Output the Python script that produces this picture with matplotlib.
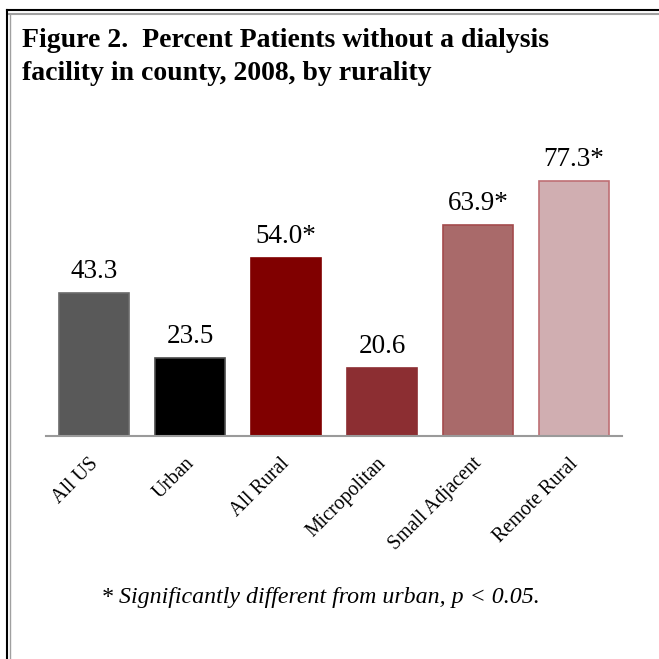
import matplotlib
matplotlib.use("Agg")
import matplotlib.pyplot as plt
import matplotlib.transforms as mtransforms
from matplotlib.lines import Line2D

categories = ["All US", "Urban", "All Rural", "Micropolitan", "Small Adjacent", "Remote Rural"]
values = [43.3, 23.5, 54.0, 20.6, 63.9, 77.3]
value_labels = ["43.3", "23.5", "54.0*", "20.6", "63.9*", "77.3*"]
face_colors = ["#595959", "#000000", "#800000", "#8C2E32", "#A96A6A", "#D0AEB1"]
edge_colors = ["#6a6a6a", "#4a4a4a", "#800000", "#8C2E32", "#A34A4C", "#BE6F74"]
title_lines = ["Figure 2.  Percent Patients without a dialysis",
               "facility in county, 2008, by rurality"]
footnote = "* Significantly different from urban, p < 0.05."

serif = ["Liberation Serif", "DejaVu Serif"]

fig = plt.figure(figsize=(6.59, 6.59), dpi=100)
W, H = 659, 659

# axes in pixel coordinates: x from 46 to 622, baseline y=436
left, right = 46, 622
base = 436
ymax = 90
ppu = 3.30
top = base - ymax * ppu
ax = fig.add_axes([left / W, 1 - base / H, (right - left) / W, (base - top) / H])
x = list(range(len(categories)))
ax.bar(x, values, width=0.72, color=face_colors, edgecolor=edge_colors, linewidth=1.2)
ax.set_xlim(-0.5, len(categories) - 0.5)
ax.set_ylim(0, ymax)
for s in ["top", "right", "left"]:
    ax.spines[s].set_visible(False)
ax.spines["bottom"].set_color("#9a9a9a")
ax.spines["bottom"].set_linewidth(1.5)
ax.set_yticks([])
ax.set_xticks(x)
ax.set_xticklabels(categories, rotation=45, ha="right", va="top",
                   rotation_mode="anchor", fontfamily=serif, fontsize=14.3)
ax.tick_params(axis="x", length=0, pad=13)
shift = mtransforms.ScaledTranslation(-4 / 72, 0, fig.dpi_scale_trans)
for lbl in ax.get_xticklabels():
    lbl.set_transform(lbl.get_transform() + shift)
for xi, v, lab in zip(x, values, value_labels):
    ax.annotate(lab, (xi, v), xytext=(0, 6.5), textcoords="offset points",
                ha="center", va="bottom", fontfamily=serif, fontsize=19.5)

# title (two lines placed at their baselines)
for line, yb in zip(title_lines, [47, 80]):
    fig.text(22 / W, 1 - yb / H, line, ha="left", va="baseline",
             fontfamily=serif, fontweight="bold", fontsize=20)

# footnote
fig.text(320 / W, 1 - 598 / H, footnote,
         ha="center", va="center", fontfamily=serif, fontstyle="italic", fontsize=17.2)

# frame lines
fig.add_artist(Line2D([7 / W, 1], [1 - 10 / H, 1 - 10 / H], color="black", lw=1.5, transform=fig.transFigure))
fig.add_artist(Line2D([9 / W, 1], [1 - 13.5 / H, 1 - 13.5 / H], color="#a0a0a0", lw=1.5, transform=fig.transFigure))
fig.add_artist(Line2D([7 / W, 7 / W], [0, 1 - 10 / H], color="black", lw=1.5, transform=fig.transFigure))
fig.add_artist(Line2D([9.5 / W, 9.5 / W], [0, 1 - 13.5 / H], color="#a0a0a0", lw=1.0, transform=fig.transFigure))

fig.savefig("out.png", dpi=100)
